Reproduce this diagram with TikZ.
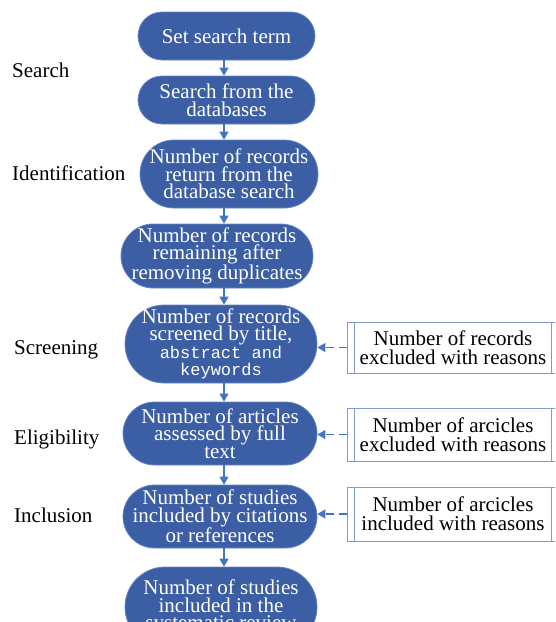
\documentclass[tikz,border=0pt]{standalone}
\usepackage{fontspec}
\setmainfont{Liberation Serif}
\newfontfamily\monofam{Liberation Mono}
\usetikzlibrary{arrows.meta}
\definecolor{boxfill}{RGB}{59,94,165}
\definecolor{boxedge}{RGB}{100,135,198}
\definecolor{linkblue}{RGB}{68,114,196}
\definecolor{sideedge}{RGB}{125,155,210}

\begin{document}
\begin{tikzpicture}[x=1pt,y=-1pt,
  stage/.style={draw=boxedge, line width=0.8pt, fill=boxfill, text=white,
    align=center, font=\fontsize{21}{17.5}\selectfont, inner sep=0pt},
  note/.style={draw=sideedge, line width=0.8pt, fill=white, align=center,
    font=\fontsize{21}{19}\selectfont, inner sep=0pt,
    minimum width=212pt},
  phase/.style={anchor=base west, font=\fontsize{21}{24}\selectfont, inner sep=0pt},
  flow/.style={draw=linkblue, line width=1.2pt, -{Triangle[width=9pt,length=8pt]}},
  feed/.style={flow, dash pattern=on 8pt off 5pt}]

\useasboundingbox (0,0) rectangle (555,622);
\clip (0,0) rectangle (555,622);

% main flow of stages
\node[stage, minimum width=177pt, minimum height=48pt, rounded corners=24pt]
  (b1) at (226.5,36) {Set search term};
\node[stage, minimum width=177pt, minimum height=48pt, rounded corners=24pt]
  (b2) at (226.5,100) {Search from the\\databases};
\node[stage, minimum width=178pt, minimum height=68pt, rounded corners=34pt]
  (b3) at (229,174) {Number of records\\return from the\\database search};
\node[stage, minimum width=192pt, minimum height=64pt, rounded corners=32pt]
  (b4) at (217,256) {Number of records\\remaining after\\removing duplicates};
\node[stage, minimum width=192pt, minimum height=78pt, rounded corners=39pt]
  (b5) at (221,344) {Number of records\\screened by title,\\
  {\monofam\fontsize{17}{17}\selectfont abstract and}\\
  {\monofam\fontsize{17}{17}\selectfont keywords}};
\node[stage, minimum width=194pt, minimum height=63pt, rounded corners=31.5pt]
  (b6) at (220,433.5) {Number of articles\\assessed by full\\text};
\node[stage, minimum width=194pt, minimum height=63pt, rounded corners=31.5pt]
  (b7) at (220,516.5) {Number of studies\\included by citations\\or references};
\node[stage, minimum width=192pt, minimum height=80pt, rounded corners=40pt]
  (b8) at (221,607) {Number of studies\\included in the\\systematic review};

% side boxes
\node[note, minimum height=51pt] (r1) at (453,347.5)
  {Number of records\\excluded with reasons};
\node[note, minimum height=53pt] (r2) at (453,434.5)
  {Number of arcicles\\excluded with reasons};
\node[note, minimum height=54pt] (r3) at (453,514)
  {Number of arcicles\\included with reasons};
\foreach \r in {r1,r2,r3}{
  \draw[sideedge, line width=0.8pt] ([xshift=8pt]\r.north west) -- ([xshift=8pt]\r.south west);
  \draw[sideedge, line width=0.8pt] ([xshift=-8pt]\r.north east) -- ([xshift=-8pt]\r.south east);
}

% phase labels
\node[phase] (p1) at (12,77) {Search};
\node[phase] (p2) at (12,180) {Identification};
\node[phase] (p3) at (14,354) {Screening};
\node[phase] (p4) at (14,444) {Eligibility};
\node[phase] (p5) at (14,522) {Inclusion};

% connectors
\draw[flow] (b1.south -| 224,0) -- (b2.north -| 224,0);
\draw[flow] (b2.south -| 224,0) -- (b3.north -| 224,0);
\draw[flow] (b3.south -| 224,0) -- (b4.north -| 224,0);
\draw[flow] (b4.south -| 224,0) -- (b5.north -| 224,0);
\draw[flow] (b5.south -| 224,0) -- (b6.north -| 224,0);
\draw[flow] (b6.south -| 224,0) -- (b7.north -| 224,0);
\draw[flow] (b7.south -| 224,0) -- (b8.north -| 224,0);

\draw[feed] (r1.west) -- (r1.west -| b5.east);
\draw[feed] (r2.west) -- (r2.west -| b6.east);
\draw[feed] (r3.west) -- (r3.west -| b7.east);
\end{tikzpicture}
\end{document}
